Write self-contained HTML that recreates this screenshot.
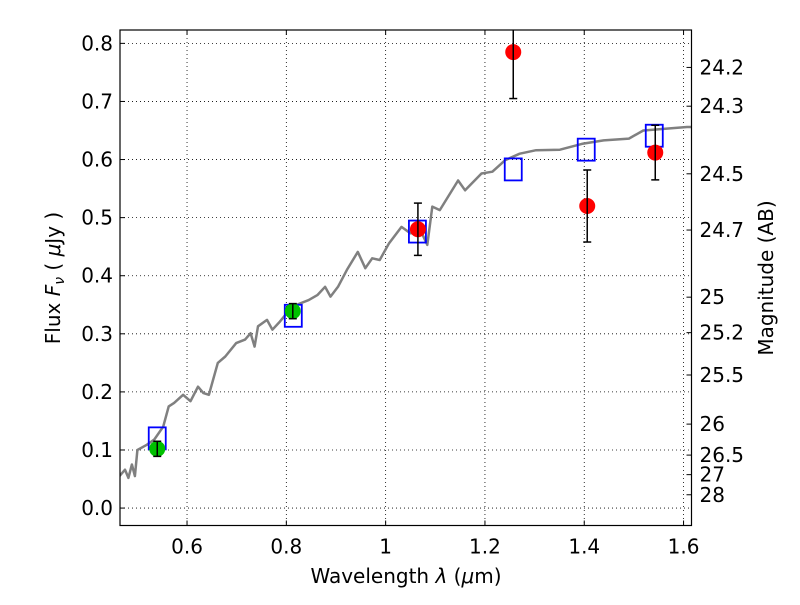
<!DOCTYPE html>
<html><head><meta charset="utf-8"><style>
body{margin:0;background:#fff;}
svg text{font-family:"DejaVu Sans","Liberation Sans",sans-serif;fill:#000;}
</style></head><body>
<svg id="c" width="800" height="600" xmlns="http://www.w3.org/2000/svg"></svg>
<script>
const xTicks=[0.6,0.8,1.0,1.2,1.4,1.6];
const xTickLabels=["0.6","0.8","1","1.2","1.4","1.6"];
const yTicks=[0,0.1,0.2,0.3,0.4,0.5,0.6,0.7,0.8];
const magTicks=[24.2,24.3,24.5,24.7,25,25.2,25.5,26,26.5,27,28];
const magLabels=["24.2","24.3","24.5","24.7","25","25.2","25.5","26","26.5","27","28"];
const specX=[0.464,0.475,0.482,0.489,0.495,0.5,0.519,0.534,0.552,0.563,0.574,0.592,0.607,0.622,0.633,0.644,0.662,0.677,0.699,0.717,0.728,0.736,0.743,0.761,0.772,0.787,0.812,0.845,0.863,0.878,0.889,0.904,0.922,0.944,0.959,0.973,0.988,1.007,1.032,1.05,1.073,1.084,1.094,1.109,1.146,1.16,1.193,1.215,1.241,1.27,1.303,1.351,1.395,1.439,1.49,1.519,1.563,1.607,1.62];
const specY=[0.055,0.066,0.052,0.075,0.055,0.1,0.109,0.118,0.14,0.175,0.181,0.195,0.184,0.209,0.198,0.195,0.25,0.261,0.284,0.29,0.301,0.278,0.313,0.324,0.307,0.321,0.347,0.358,0.367,0.381,0.364,0.381,0.41,0.441,0.413,0.43,0.427,0.456,0.484,0.473,0.473,0.453,0.519,0.513,0.564,0.547,0.576,0.579,0.599,0.61,0.616,0.617,0.627,0.633,0.636,0.65,0.653,0.656,0.656];
const greenX=[0.54,0.813], greenY=[0.102,0.339], greenErr=[0.013,0.013];
const redX=[1.065,1.257,1.406,1.543], redY=[0.48,0.785,0.52,0.612], redErr=[0.045,0.08,0.062,0.047];
const modelX=[0.54,0.814,1.064,1.257,1.404,1.541], modelY=[0.12,0.331,0.476,0.583,0.617,0.641];

const L=120,R=691.5,T=30,B=525.5,xmin=0.465,xmax=1.616,ymin=-0.030,ymax=0.823;
const X=v=>L+(v-xmin)/(xmax-xmin)*(R-L);
const Y=v=>B-(v-ymin)/(ymax-ymin)*(B-T);
const magToF=m=>Math.pow(10,(23.9-m)/2.5);
const svg=document.getElementById('c');const NS="http://www.w3.org/2000/svg";
function mk(t,a,p){const e=document.createElementNS(NS,t);for(const k in a)e.setAttribute(k,a[k]);(p||svg).appendChild(e);return e;}
const defs=mk('defs',{});const cp=mk('clipPath',{id:'cp'},defs);mk('rect',{x:L,y:T,width:R-L,height:B-T},cp);
xTicks.forEach((v,i)=>{const x=X(v);
 const g=mk('line',{x1:x,x2:x,y1:T,y2:B,stroke:'#000','stroke-dasharray':'1,3','stroke-width':0.8});
 
 mk('line',{x1:x,x2:x,y1:B,y2:B-5,stroke:'#000'});mk('line',{x1:x,x2:x,y1:T,y2:T+5,stroke:'#000'});
 const t=mk('text',{x:x,y:B+28,'text-anchor':'middle','font-size':20});t.textContent=xTickLabels[i];
 });
yTicks.forEach(v=>{const y=Y(v);
 const g=mk('line',{x1:L,x2:R,y1:y,y2:y,stroke:'#000','stroke-dasharray':'1,3','stroke-width':0.8});
 
 mk('line',{x1:L,x2:L+5,y1:y,y2:y,stroke:'#000'});
 const t=mk('text',{x:L-7,y:y+7,'text-anchor':'end','font-size':20});t.textContent=v.toFixed(1);
 });
magTicks.forEach((m,i)=>{const y=Y(magToF(m));
 mk('line',{x1:R-5,x2:R,y1:y,y2:y,stroke:'#000'});
 const t=mk('text',{x:R+8,y:y+7,'font-size':20});t.textContent=magLabels[i];
 });
let d='';specX.forEach((v,i)=>{d+=(i?'L':'M')+X(v).toFixed(1)+' '+Y(specY[i]).toFixed(1);});
const sp=mk('path',{d:d,fill:'none',stroke:'#808080','stroke-width':2.5,'stroke-linejoin':'round','clip-path':'url(#cp)'});

modelX.forEach((v,i)=>{const s=mk('rect',{x:X(v)-8.5,y:Y(modelY[i])-11,width:17,height:22,fill:'none',stroke:'#0000ff','stroke-width':1.8});
 });
function pts(xs,ys,es,col,name){xs.forEach((v,i)=>{const x=X(v);
 const c=mk('circle',{cx:x,cy:Y(ys[i]),r:8,fill:col});
 
 mk('line',{x1:x,x2:x,y1:Y(ys[i]-es[i]),y2:Y(ys[i]+es[i]),stroke:'#000','stroke-width':1.5,'clip-path':'url(#cp)'});
 [ys[i]-es[i],ys[i]+es[i]].forEach(e=>mk('line',{x1:x-4,x2:x+4,y1:Y(e),y2:Y(e),stroke:'#000','stroke-width':1.5,'clip-path':'url(#cp)'}));
 });}
pts(greenX,greenY,greenErr,'#00c000','green-data-point');
pts(redX,redY,redErr,'#ff0000','red-data-point');
mk('rect',{x:L,y:T,width:R-L,height:B-T,fill:'none',stroke:'#000','stroke-width':1.2});
</script>
<svg width="800" height="600" style="position:absolute;left:0;top:0" xmlns="http://www.w3.org/2000/svg">
<text x="406" y="583" text-anchor="middle" font-size="20">Wavelength  <tspan font-style="italic">λ</tspan> (<tspan font-style="italic">μ</tspan>m)</text>
<text transform="translate(60,278) rotate(-90)" text-anchor="middle" font-size="20">Flux  <tspan font-style="italic">F<tspan font-size="14" dy="4">ν</tspan></tspan><tspan dy="-4">  ( </tspan><tspan font-style="italic">μ</tspan>Jy )</text>
<text transform="translate(773,278) rotate(-90)" text-anchor="middle" font-size="20">Magnitude (AB)</text>
</svg>
</body></html>
